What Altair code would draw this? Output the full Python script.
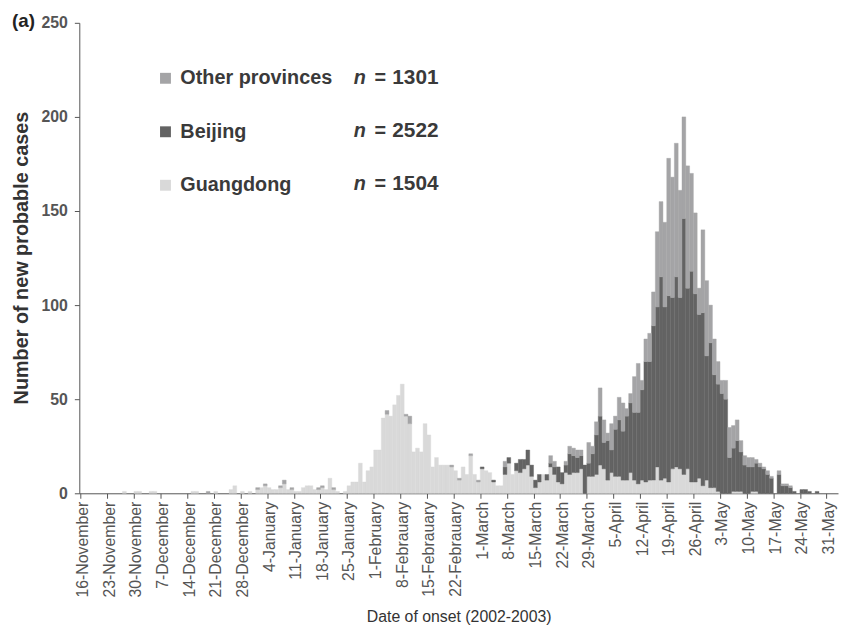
import altair as alt
import pandas as pd

# ---- data (daily new probable cases, day 0 = 16 November 2002) ----
week_labels = ["16-November", "23-November", "30-November", "7-December", "14-December",
               "21-December", "28-December", "4-January", "11-January", "18-January",
               "25-January", "1-February", "8-Febrauary", "15-Febrauary", "22-Febrauary",
               "1-March", "8-March", "15-March", "22-March", "29-March", "5-April",
               "12-April", "19-April", "26-April", "3-May", "10-May", "17-May", "24-May",
               "31-May"]

series_names = ["Other provinces", "Beijing", "Guangdong"]
series_n = [1301, 2522, 1504]
series_colors = ["#a4a4a6", "#636363", "#d9d9d9"]

guangdong = [
    0, 0, 0, 0, 0, 0, 0, 0, 0, 0,
    0, 1, 0, 0, 1, 1, 0, 0, 1, 1,
    0, 0, 0, 0, 0, 0, 0, 0, 0, 1,
    1, 0, 0, 0, 0, 1, 0, 0, 0, 2,
    4, 0, 1, 0, 1, 0, 2, 3, 4, 3,
    2, 2, 3, 5, 2, 2, 1, 1, 3, 4,
    4, 2, 2, 3, 2, 8, 2, 1, 0, 1,
    4, 6, 6, 16, 6, 12, 14, 23, 23, 40,
    42, 41, 47, 52, 58, 41, 37, 22, 24, 22,
    37, 31, 14, 19, 15, 15, 15, 14, 12, 7,
    14, 10, 20, 10, 6, 13, 12, 11, 6, 4,
    4, 10, 16, 10, 12, 11, 13, 15, 9, 3,
    6, 10, 7, 14, 10, 6, 5, 11, 10, 11,
    11, 13, 0, 9, 9, 10, 15, 13, 7, 11,
    9, 9, 7, 7, 11, 7, 5, 7, 6, 7,
    7, 14, 7, 8, 6, 13, 14, 13, 10, 13,
    6, 6, 8, 4, 7, 3, 3, 1, 0, 0,
    0, 1, 1, 1, 0, 0, 1, 1, 0, 0,
    0, 0, 0, 0, 0, 0, 0, 0, 0, 0,
    0, 0, 0, 0, 0, 0, 0, 0,
]

beijing = [0] * 100 + [
    0, 0, 0, 0, 0, 1, 0, 0, 1, 0,
    0, 4, 3, 0, 4, 7, 5, 8, 6, 4,
    4, 0, 3, 2, 4, 8, 6, 4, 11, 9,
    8, 7, 15, 7, 12, 21, 26, 14, 21, 12,
    25, 30, 26, 34, 37, 36, 38, 48, 64, 63,
    82, 85, 108, 91, 99, 91, 101, 91, 136, 96,
    112, 100, 87, 92, 66, 77, 60, 57, 53, 50,
    19, 23, 27, 21, 15, 14, 13, 15, 14, 13,
    10, 8, 0, 10, 4, 4, 3, 1, 0, 2,
    2, 1, 0, 1, 0, 0, 0, 0,
]

other = [
    0, 0, 0, 0, 0, 0, 0, 0, 0, 0,
    0, 0, 0, 0, 0, 0, 0, 0, 0, 0,
    0, 0, 0, 0, 0, 0, 0, 0, 0, 0,
    0, 0, 0, 1, 0, 0, 0, 0, 0, 0,
    0, 0, 0, 0, 0, 0, 1, 0, 1, 0,
    0, 0, 1, 2, 0, 1, 0, 0, 0, 0,
    0, 0, 1, 1, 0, 0, 1, 0, 0, 0,
    0, 0, 0, 0, 0, 0, 0, 0, 0, 0,
    2, 0, 0, 0, 0, 1, 4, 0, 0, 0,
    0, 0, 0, 0, 0, 0, 0, 1, 0, 1,
    0, 0, 1, 0, 1, 0, 0, 0, 0, 0,
    0, 3, 0, 0, 0, 0, 0, 0, 0, 0,
    0, 0, 0, 4, 3, 0, 0, 2, 4, 4,
    4, 3, 0, 11, 4, 7, 15, 12, 4, 14,
    7, 12, 15, 4, 5, 19, 26, 5, 12, 15,
    18, 40, 40, 45, 73, 64, 71, 57, 54, 65,
    52, 43, 14, 44, 40, 20, 19, 12, 7, 10,
    16, 12, 11, 6, 5, 5, 5, 2, 2, 1,
    2, 1, 0, 2, 1, 1, 1, 0, 0, 0,
    0, 0, 0, 0, 0, 0, 0, 0,
]

# ---- long table built from the arrays ----
rows = []
for order, (name, vals) in enumerate([("Guangdong", guangdong), ("Beijing", beijing),
                                      ("Other provinces", other)]):
    for d, v in enumerate(vals):
        rows.append({"day": d, "x0": d - 0.5, "x1": d + 0.5,
                     "series": name, "cases": v, "ord": order})
df = pd.DataFrame(rows)

tick_vals = [7 * k - 0.5 for k in range(len(week_labels))]
label_js = "[" + ",".join("'" + s + "'" for s in week_labels) + "]"

FONT = "Liberation Sans"
color_scale = alt.Scale(domain=series_names, range=series_colors)

bars = alt.Chart(df).transform_stack(
    stack="cases", as_=["y0", "y1"], groupby=["day"],
    sort=[alt.SortField("ord", order="ascending")],
).transform_filter("datum.cases > 0").mark_rect(strokeWidth=0.4).encode(
    x=alt.X("x0:Q",
            scale=alt.Scale(domain=[-0.85, 198.5], nice=False, zero=False),
            axis=alt.Axis(values=tick_vals,
                          labelExpr=label_js + "[round((datum.value + 0.5) / 7)]",
                          labelAngle=270, labelFontSize=16, labelColor="#555555",
                          labelPadding=3, labelOffset=2, labelOverlap=False,
                          tickSize=5, tickColor="#555555", domainColor="#555555",
                          grid=False, title="Date of onset (2002-2003)",
                          titleFontSize=16, titleFontWeight="normal", titleColor="#333333",
                          titleX=383, titleY=129, titleBaseline="alphabetic")),
    x2="x1:Q",
    y=alt.Y("y0:Q",
            scale=alt.Scale(domain=[0, 250], nice=False),
            axis=alt.Axis(values=[0, 50, 100, 150, 200, 250], labelFontSize=16,
                          labelFontWeight="bold", labelColor="#555555", labelPadding=7,
                          tickSize=5, tickColor="#555555", domainColor="#555555",
                          grid=False, title="Number of new probable cases",
                          titleFontSize=20, titleFontWeight="bold", titleColor="#333333",
                          titleX=-58, titleY=237, titleAngle=270, titleBaseline="middle",
                          titleAlign="center")),
    y2="y1:Q",
    color=alt.Color("series:N", scale=color_scale,
                    legend=alt.Legend(orient="none", legendX=77, legendY=46, title=None,
                                      symbolType="square", symbolSize=121,
                                      symbolStrokeWidth=0, labelFontSize=20,
                                      labelFontWeight="bold", labelColor="#3a3a3a",
                                      labelOffset=5, rowPadding=34, padding=0)),
    stroke=alt.Stroke("series:N", scale=color_scale, legend=None),
)

layers = [bars]
for i, (name, n) in enumerate(zip(series_names, series_n)):
    yy = 56 + 53.5 * i
    layers.append(alt.Chart(pd.DataFrame({"t": ["n"]})).mark_text(
        align="left", baseline="middle", fontSize=20, fontWeight="bold",
        fontStyle="italic", color="#3a3a3a").encode(
        text="t:N", x=alt.value(277), y=alt.value(yy)))
    layers.append(alt.Chart(pd.DataFrame({"t": ["="]})).mark_text(
        align="left", baseline="middle", fontSize=20, fontWeight="bold",
        color="#3a3a3a").encode(
        text="t:N", x=alt.value(298), y=alt.value(yy)))
    layers.append(alt.Chart(pd.DataFrame({"t": [str(n)]})).mark_text(
        align="left", baseline="middle", fontSize=21, fontWeight="bold",
        color="#3a3a3a").encode(
        text="t:N", x=alt.value(316), y=alt.value(yy)))

layers.append(alt.Chart(pd.DataFrame({"t": ["(a)"]})).mark_text(
    align="left", baseline="middle", fontSize=19, fontWeight="bold",
    color="#222222").encode(text="t:N", x=alt.value(-68), y=alt.value(-2)))

chart = alt.layer(*layers).properties(
    width=766, height=475,
    padding={"left": 72, "top": 12, "right": 1, "bottom": 130},
    autosize=alt.AutoSizeParams(type="none"),
).configure(font=FONT).configure_view(stroke=None)

chart.save("out.html", embed_options={"renderer": "svg", "actions": False})
